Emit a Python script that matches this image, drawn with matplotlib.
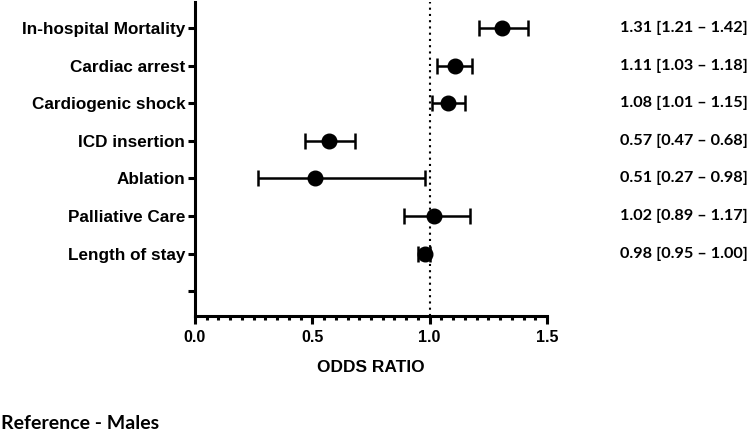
import matplotlib.pyplot as plt
from matplotlib.ticker import MultipleLocator
from matplotlib.transforms import blended_transform_factory

# values
outcomes = ["In-hospital Mortality", "Cardiac arrest", "Cardiogenic shock",
            "ICD insertion", "Ablation", "Palliative Care", "Length of stay", ""]
odds = [1.31, 1.11, 1.08, 0.57, 0.51, 1.02, 0.98]
lower = [1.21, 1.03, 1.01, 0.47, 0.27, 0.89, 0.95]
upper = [1.42, 1.18, 1.15, 0.68, 0.98, 1.17, 1.00]
x_ticks = [0.0, 0.5, 1.0, 1.5]

ARIAL = "Liberation Sans"
CALIBRI = ["Lato", "DejaVu Sans"]

fig = plt.figure(figsize=(7.5, 4.32), dpi=100)
ax = fig.add_axes([0.26, 0.2685, 0.4693, 0.727])

ypos = list(range(len(odds)))
xerr = [[o - lo for o, lo in zip(odds, lower)],
        [hi - o for o, hi in zip(odds, upper)]]
ax.errorbar(odds, ypos, xerr=xerr, fmt="o", color="black", ms=10.5,
            elinewidth=1.8, capsize=5.5, capthick=1.8, zorder=3)
ax.axvline(1.0, color="black", linestyle=(0, (1, 2)), lw=1.5, zorder=1)

ax.set_yticks(range(len(outcomes)))
ax.set_yticklabels(outcomes, fontsize=12.3, fontweight="bold", family=ARIAL)
ax.set_ylim(7.66, -0.69)
ax.set_xlim(0, 1.5)
ax.set_xticks(x_ticks)
ax.set_xticklabels([f"{t:.1f}" for t in x_ticks], fontsize=11.5,
                   fontweight="bold", family=ARIAL)
ax.xaxis.set_minor_locator(MultipleLocator(0.05))
ax.set_xlabel("ODDS RATIO", fontsize=12.5, fontweight="bold", family=ARIAL,
              labelpad=11)

for side in ["top", "right"]:
    ax.spines[side].set_visible(False)
for side in ["left", "bottom"]:
    ax.spines[side].set_linewidth(2.2)
ax.tick_params(axis="x", which="major", length=6, width=2.2, pad=4)
ax.tick_params(axis="x", which="minor", length=3, width=2.2)
ax.tick_params(axis="y", length=5, width=2.2, pad=2)

# estimate labels to the right of the plot
trans = blended_transform_factory(fig.transFigure, ax.transData)
for y, o, lo, hi in zip(ypos, odds, lower, upper):
    ax.text(0.827, y, f"{o:.2f} [{lo:.2f} \u2013 {hi:.2f}]", transform=trans,
            ha="left", va="center", fontsize=11.7, fontweight="bold",
            family=CALIBRI)

fig.text(0.001, 0.008, "Reference - Males", fontsize=14, fontweight="bold",
         family=CALIBRI, ha="left", va="baseline")

fig.savefig("out.png", dpi=100)
